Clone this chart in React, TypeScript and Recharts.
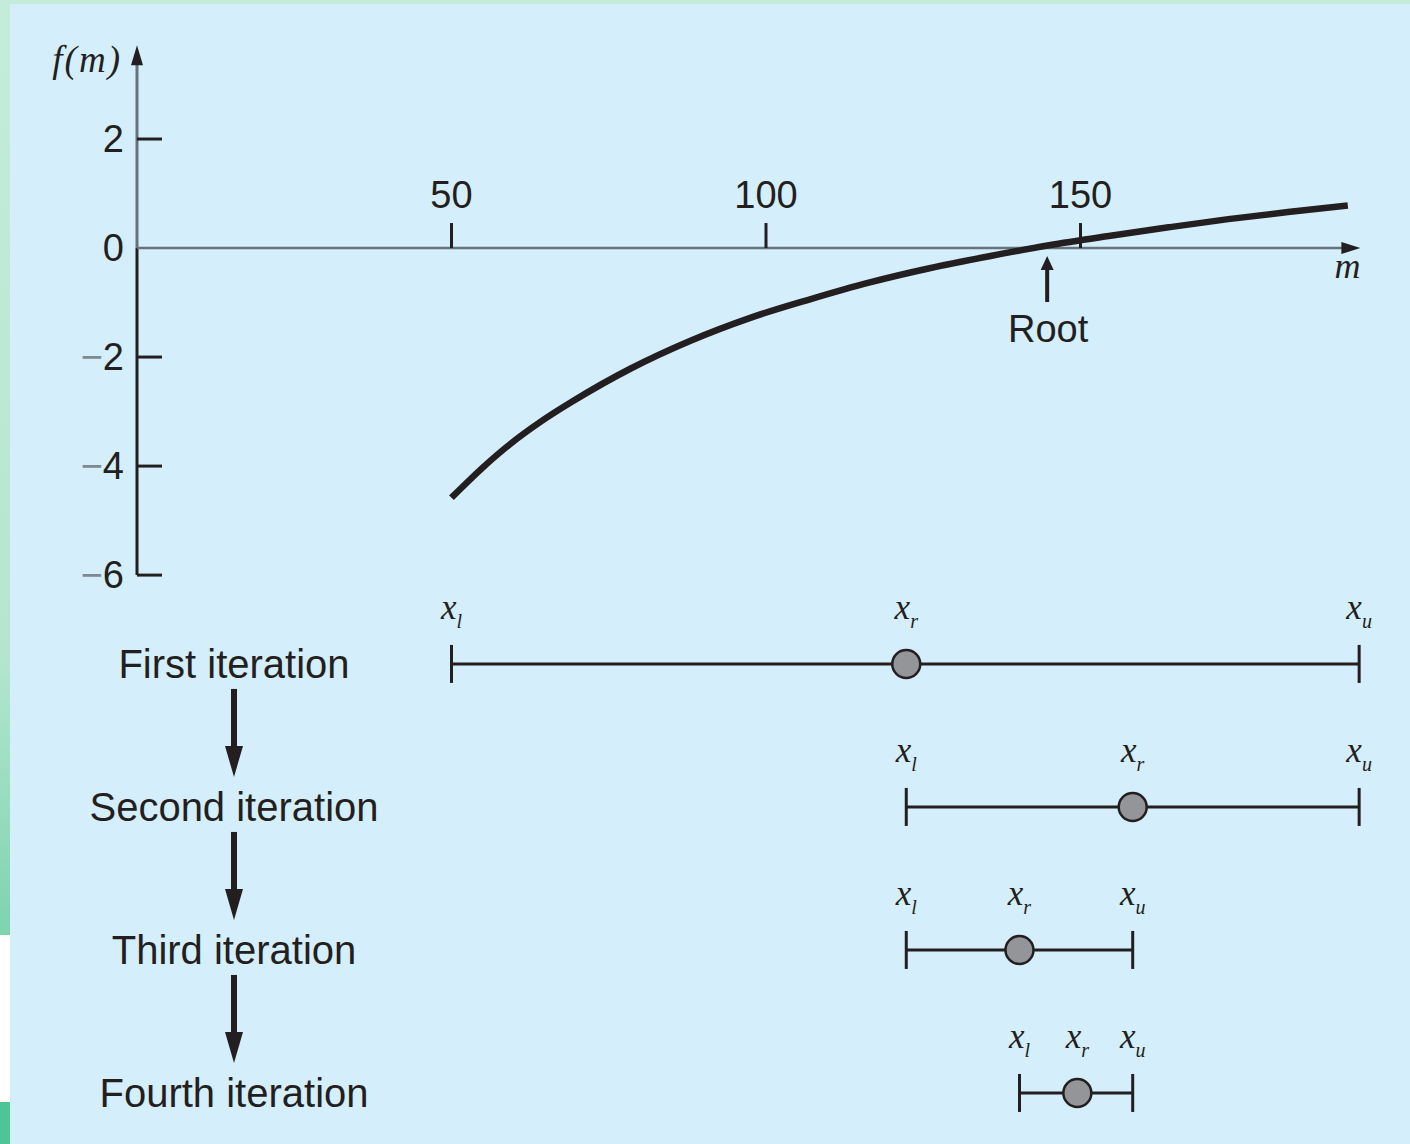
import React from "react";
import {
  ComposedChart,
  Line,
  Scatter,
  XAxis,
  YAxis,
  ReferenceLine,
  ReferenceDot,
} from "recharts";

// f(m) curve (denser where it bends most)
const massValues = [50, 54.75, 59.5, 64.25, 69, 78.5, 88, 97.5, 107, 116.5, 126, 135.5, 145, 154.5, 164, 173.5, 183, 192.5];
const fValues = [-4.58, -4.05, -3.58, -3.18, -2.83, -2.21, -1.7, -1.28, -0.94, -0.63, -0.37, -0.15, 0.05, 0.22, 0.38, 0.53, 0.66, 0.78];

const xTicks = [50, 100, 150];
const yTicks = [2, 0, -2, -4, -6];
const rootEstimate = 144.7;

// bisection brackets for each iteration
const iterationRows = [1, 2, 3, 4];
const iterationNames = ["First iteration", "Second iteration", "Third iteration", "Fourth iteration"];
const xLower = [50, 122.3, 122.3, 140.3];
const xRoot = [122.3, 158.3, 140.3, 149.5];
const xUpper = [194.3, 194.3, 158.3, 158.3];

const INK = "#231f20";
const AXIS_GRAY = "#66737a";
const SANS = "'Liberation Sans', Arial, sans-serif";
const SERIF = "'Liberation Serif', 'Times New Roman', serif";

const curveData = massValues.map((m, i) => ({ m, f: fValues[i] }));

const endData = iterationRows.flatMap((it, i) => [
  { m: xLower[i], it, sub: "l" },
  { m: xUpper[i], it, sub: "u" },
]);
const rootData = iterationRows.map((it, i) => ({ m: xRoot[i], it, sub: "r" }));

function XLabel({ x, y, sub }: { x: number; y: number; sub: string }) {
  return (
    <text x={x} y={y} textAnchor="middle" fontFamily={SERIF} fontStyle="italic" fontSize={35} fill={INK}>
      x
      <tspan fontSize={20} dy={9}>
        {sub}
      </tspan>
    </text>
  );
}

const EndTick = (props: any) => {
  const { cx, cy, payload } = props;
  return (
    <g>
      <line x1={cx} x2={cx} y1={cy - 19} y2={cy + 19} stroke={INK} strokeWidth={3} />
      <XLabel x={cx} y={cy - 45} sub={payload.sub} />
    </g>
  );
};

const RootDot = (props: any) => {
  const { cx, cy, payload } = props;
  return (
    <g>
      <circle cx={cx} cy={cy} r={14} fill="#939598" stroke={INK} strokeWidth={2.5} />
      <XLabel x={cx} y={cy - 45} sub={payload.sub} />
    </g>
  );
};

const FTick = (props: any) => {
  const { x, y, payload } = props;
  const v = payload.value as number;
  return (
    <g>
      {v !== 0 && <line x1={x} x2={x + 25} y1={y} y2={y} stroke={INK} strokeWidth={3} />}
      <text x={x - 13} y={y + 13} textAnchor="end" fontFamily={SANS} fontSize={38} fill={INK}>
        {v < 0 && <tspan fill="#7f8a90">−</tspan>}
        {Math.abs(v)}
      </text>
    </g>
  );
};

const IterTick = (props: any) => {
  const { y, payload } = props;
  const i = iterationRows.indexOf(payload.value);
  if (i < 0) return <g />;
  const cx = 234;
  return (
    <g>
      <text x={cx} y={y + 14} textAnchor="middle" fontFamily={SANS} fontSize={40} fill={INK}>
        {iterationNames[i]}
      </text>
      {i < iterationRows.length - 1 && (
        <g>
          <line x1={cx} x2={cx} y1={y + 25} y2={y + 84} stroke={INK} strokeWidth={6} />
          <polygon points={`${cx - 9},${y + 82} ${cx + 9},${y + 82} ${cx},${y + 113}`} fill={INK} />
        </g>
      )}
    </g>
  );
};

const xTickShape = (value: number) => (props: any) => {
  const { cx, cy } = props;
  return (
    <g>
      <line x1={cx} x2={cx} y1={cy - 25} y2={cy} stroke={INK} strokeWidth={3} />
      <text x={cx} y={cy - 40} textAnchor="middle" fontFamily={SANS} fontSize={38} fill={INK}>
        {value}
      </text>
    </g>
  );
};

const xArrowShape = (props: any) => {
  const { cx, cy } = props;
  return (
    <g>
      <polygon points={`${cx - 19},${cy - 6} ${cx - 19},${cy + 6} ${cx},${cy}`} fill={INK} />
      <text x={cx - 13} y={cy + 30} textAnchor="middle" fontFamily={SERIF} fontStyle="italic" fontSize={36} fill={INK}>
        m
      </text>
    </g>
  );
};

const yArrowShape = (props: any) => {
  const { cx, cy } = props;
  return (
    <g>
      <polygon points={`${cx - 6},${cy + 20} ${cx + 6},${cy + 20} ${cx},${cy}`} fill={INK} />
      <text
        x={cx - 15}
        y={cy + 27}
        textAnchor="end"
        fontFamily={SERIF}
        fontStyle="italic"
        fontSize={37}
        letterSpacing={2}
        fill={INK}
      >
        f(m)
      </text>
    </g>
  );
};

const rootShape = (props: any) => {
  const { cx, cy } = props;
  return (
    <g>
      <line x1={cx} x2={cx} y1={cy + 20} y2={cy + 54} stroke={INK} strokeWidth={4} />
      <polygon points={`${cx - 6.5},${cy + 22} ${cx + 6.5},${cy + 22} ${cx},${cy + 8}`} fill={INK} />
      <text x={cx + 1} y={cy + 94} textAnchor="middle" fontFamily={SANS} fontSize={38} fill={INK}>
        Root
      </text>
    </g>
  );
};

export default function App() {
  return (
    <div
      style={{
        position: "absolute",
        left: 0,
        top: 0,
        width: 1410,
        height: 1144,
        background: "#d4effb",
        overflow: "hidden",
      }}
    >
      <div style={{ position: "absolute", left: 0, top: 0, width: 1410, height: 4, background: "#c5ecdb" }} />
      <div
        style={{
          position: "absolute",
          left: 0,
          top: 0,
          width: 10,
          height: 935,
          background: "linear-gradient(#c5ecdb 0%, #b4e6cf 70%, #7ed3ae 100%)",
        }}
      />
      <div style={{ position: "absolute", left: 0, top: 935, width: 10, height: 167, background: "#ffffff" }} />
      <div style={{ position: "absolute", left: 0, top: 1102, width: 10, height: 42, background: "#4ec594" }} />
      <div style={{ position: "absolute", left: 0, top: 0 }}>
        <ComposedChart width={1410} height={1144} margin={{ top: 30, right: 0, bottom: 2, left: 0 }}>
          <XAxis type="number" dataKey="m" domain={[0, 200]} allowDataOverflow hide />
          <YAxis
            yAxisId="f"
            type="number"
            domain={[-16.4, 4]}
            ticks={yTicks}
            interval={0}
            allowDataOverflow
            width={137}
            axisLine={false}
            tickLine={false}
            tickSize={0}
            tickMargin={0}
            tick={<FTick />}
          />
          <YAxis
            yAxisId="iter"
            orientation="right"
            type="number"
            domain={[-3.433, 4.343]}
            reversed
            ticks={iterationRows}
            interval={0}
            allowDataOverflow
            width={15}
            axisLine={false}
            tickLine={false}
            tick={<IterTick />}
          />

          <ReferenceLine yAxisId="f" segment={[{ x: 0, y: -6 }, { x: 0, y: 0 }]} stroke={INK} strokeWidth={3} />
          <ReferenceLine yAxisId="f" segment={[{ x: 0, y: 0 }, { x: 0, y: 3.5 }]} stroke={AXIS_GRAY} strokeWidth={3} />
          <ReferenceLine yAxisId="f" segment={[{ x: 0, y: 0 }, { x: 192, y: 0 }]} stroke={AXIS_GRAY} strokeWidth={2.5} />
          <ReferenceDot yAxisId="f" x={0} y={3.72} shape={yArrowShape} />
          <ReferenceDot yAxisId="f" x={194.5} y={0} shape={xArrowShape} />
          {xTicks.map((t) => (
            <ReferenceDot key={t} yAxisId="f" x={t} y={0} shape={xTickShape(t)} />
          ))}
          <ReferenceDot yAxisId="f" x={rootEstimate} y={0} shape={rootShape} />

          <Line
            yAxisId="f"
            data={curveData}
            dataKey="f"
            type="monotone"
            stroke={INK}
            strokeWidth={6.5}
            dot={false}
            activeDot={false}
            isAnimationActive={false}
          />

          {iterationRows.map((it, i) => (
            <Line
              key={it}
              yAxisId="iter"
              data={[
                { m: xLower[i], it },
                { m: xUpper[i], it },
              ]}
              dataKey="it"
              type="linear"
              stroke={INK}
              strokeWidth={3}
              dot={false}
              activeDot={false}
              isAnimationActive={false}
            />
          ))}
          <Scatter yAxisId="iter" data={endData} dataKey="it" shape={EndTick} isAnimationActive={false} />
          <Scatter yAxisId="iter" data={rootData} dataKey="it" shape={RootDot} isAnimationActive={false} />
        </ComposedChart>
      </div>
    </div>
  );
}
